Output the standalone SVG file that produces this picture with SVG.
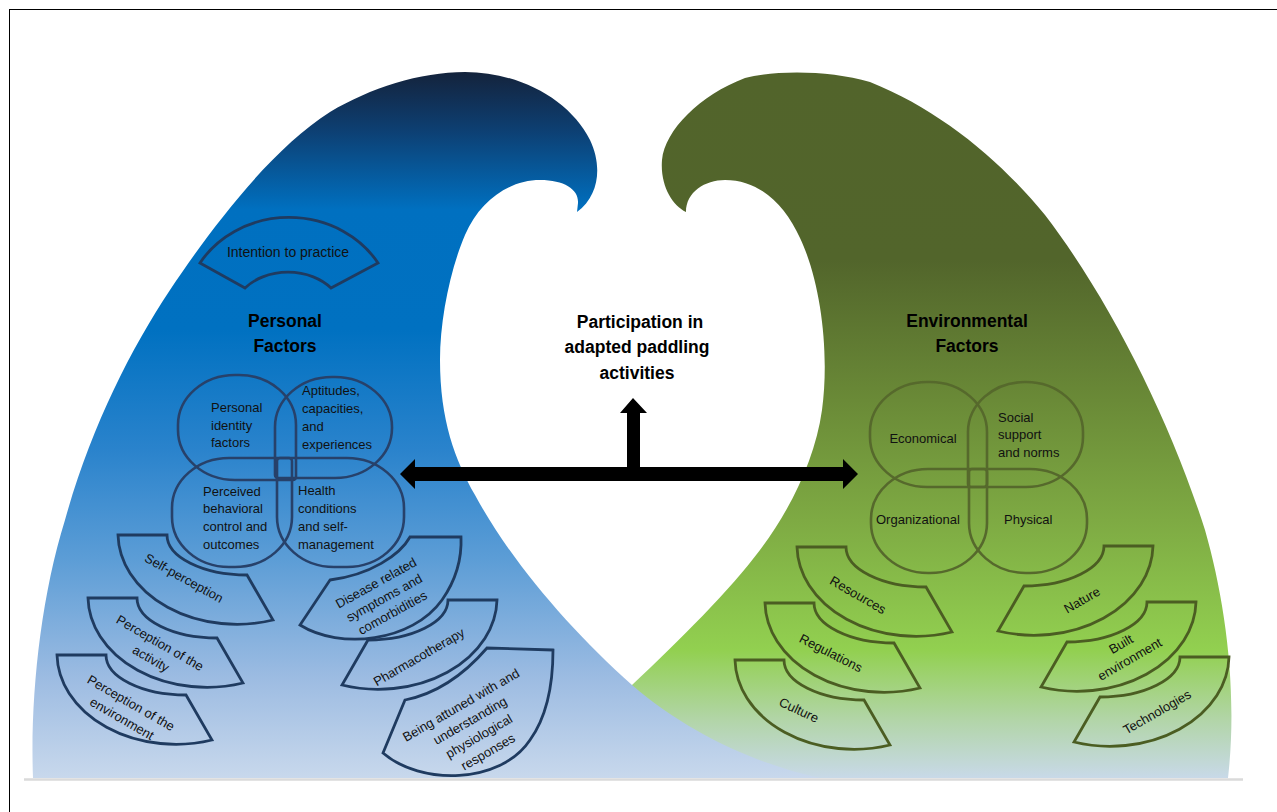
<svg xmlns="http://www.w3.org/2000/svg" width="1277" height="812" viewBox="0 0 1277 812">
  <defs>
    <linearGradient id="blueWave" gradientUnits="userSpaceOnUse" x1="0" y1="72" x2="0" y2="778">
      <stop offset="0" stop-color="#14233c"/>
      <stop offset="0.082" stop-color="#0d3f72"/>
      <stop offset="0.195" stop-color="#0070c0"/>
      <stop offset="0.365" stop-color="#0071c1"/>
      <stop offset="0.535" stop-color="#2a83cc"/>
      <stop offset="0.69" stop-color="#5c9dd6"/>
      <stop offset="0.86" stop-color="#9dbce2"/>
      <stop offset="1" stop-color="#c8d8ec"/>
    </linearGradient>
    <linearGradient id="greenWave" gradientUnits="userSpaceOnUse" x1="0" y1="72" x2="0" y2="778">
      <stop offset="0" stop-color="#52642b"/>
      <stop offset="0.266" stop-color="#52652b"/>
      <stop offset="0.465" stop-color="#6a8a37"/>
      <stop offset="0.635" stop-color="#7eaa43"/>
      <stop offset="0.819" stop-color="#92d050"/>
      <stop offset="0.918" stop-color="#b2d5a8"/>
      <stop offset="1" stop-color="#c8d9e8"/>
    </linearGradient>
    <!-- block-arc outlines, anchored at the outer top corner -->
    <path id="fanL" d="M0,0 H49 A80,40 0 0 0 129,40 L155,85 A119,91 0 0 1 0,0 Z"/>
    <path id="fanR" d="M0,0 H-49 A80,40 0 0 1 -129,40 L-155,85 A119,91 0 0 0 0,0 Z"/>
  </defs>
  <style>
    .lbl{font-family:"Liberation Sans",Arial,sans-serif;font-size:13px;fill:#111}
    .big{font-size:14px}
    .mid{text-anchor:middle}
    .ttl{font-family:"Liberation Sans",Arial,sans-serif;font-size:17.5px;font-weight:bold;fill:#000;text-anchor:middle}
    .pb{fill:none;stroke:#27416a;stroke-width:2.6}
    .fb{fill:none;stroke:#1f3b60;stroke-width:2.8}
    .eg{fill:none;stroke:#56692c;stroke-width:2.6}
    .fg{fill:none;stroke:#4b5d22;stroke-width:2.8}
    .arrow{fill:#000}
  </style>

  <rect x="0" y="0" width="1277" height="812" fill="#fff"/>
  <rect x="9.5" y="9.5" width="1300" height="830" fill="none" stroke="#000" stroke-width="1"/>

  <!-- background waves -->
  <g id="waves">
    <path id="wave-green" fill="url(#greenWave)" d="M686,212 C672,205 660,185 662,160 C665,130 700,95 745,78 C775,70 830,70 870,82 C940,110 1000,160 1045,215 C1110,300 1170,420 1205,530 C1225,600 1238,690 1228,778 L560,778 C580,740 600,715 632,685 C680,640 730,590 760,550 C790,510 815,460 822,410 C830,350 820,280 800,238 C785,205 760,180 725,180 C705,180 686,192 686,212 Z"/>
    <path id="wave-blue" fill="url(#blueWave)" d="M33,778 C30,700 40,600 65,520 C90,430 130,350 170,290 C210,230 270,150 330,112 C370,88 420,72 465,72 C520,72 570,100 590,140 C602,165 600,195 577,212 L578,203 C579,190 565,180 540,180 C510,180 480,200 465,235 C450,270 440,320 440,360 C440,420 455,460 475,495 C510,560 570,630 632,685 C690,735 760,765 820,778 Z"/>
    <line x1="24" y1="779.5" x2="1243" y2="779.5" stroke="#dadada" stroke-width="2.5"/>
  </g>

  <!-- personal factors -->
  <g id="intention">
    <path class="fb" d="M200,263 A103.5,93 0 0 1 378,263 L331,288 A54,40 0 0 0 245,288 Z"/>
    <text class="lbl big mid" x="288" y="257">Intention to practice</text>
  </g>
  <g id="personal-title">
    <text class="ttl" x="285" y="327">Personal</text>
    <text class="ttl" x="285" y="352">Factors</text>
  </g>
  <g id="personal-identity">
    <path class="pb" d="M178,425 A57,50 0 0 1 235,375 H239 A57,50 0 0 1 296,425 V477 A3,3 0 0 1 293,480 H235 A57,50 0 0 1 178,430 Z"/>
    <text class="lbl"><tspan x="211" y="412">Personal</tspan><tspan x="211" y="430">identity</tspan><tspan x="211" y="447">factors</tspan></text>
  </g>
  <g id="aptitudes">
    <path class="pb" d="M275,475 V427 A57,50 0 0 1 332,377 H335 A57,50 0 0 1 392,427 V428 A57,50 0 0 1 335,478 H278 A3,3 0 0 1 275,475 Z"/>
    <text class="lbl"><tspan x="302" y="395">Aptitudes,</tspan><tspan x="302" y="413">capacities,</tspan><tspan x="302" y="431">and</tspan><tspan x="302" y="449">experiences</tspan></text>
  </g>
  <g id="perceived-control">
    <path class="pb" d="M172,508 A57,50 0 0 1 229,458 H289 A3,3 0 0 1 292,461 V517 A57,50 0 0 1 235,567 H229 A57,50 0 0 1 172,517 Z"/>
    <text class="lbl"><tspan x="203" y="496">Perceived</tspan><tspan x="203" y="513">behavioral</tspan><tspan x="203" y="531">control and</tspan><tspan x="203" y="549">outcomes</tspan></text>
  </g>
  <g id="health-conditions">
    <path class="pb" d="M277,461 A3,3 0 0 1 280,458 H347 A57,50 0 0 1 404,508 V517 A57,50 0 0 1 347,567 H334 A57,50 0 0 1 277,517 Z"/>
    <text class="lbl"><tspan x="298" y="495">Health</tspan><tspan x="298" y="513">conditions</tspan><tspan x="298" y="531">and self-</tspan><tspan x="298" y="549">management</tspan></text>
  </g>
  <g id="self-perception">
    <use href="#fanL" class="fb" x="118" y="535"/>
    <text class="lbl mid" transform="translate(184,578) rotate(29)" y="4.5">Self-perception</text>
  </g>
  <g id="perception-activity">
    <use href="#fanL" class="fb" x="88" y="598"/>
    <text class="lbl mid" transform="translate(160,643) rotate(30)"><tspan x="0" y="4.5">Perception of the</tspan><tspan x="0" dy="18">activity</tspan></text>
  </g>
  <g id="perception-environment">
    <use href="#fanL" class="fb" x="57" y="655"/>
    <text class="lbl mid" transform="translate(131,703) rotate(30)"><tspan x="0" y="4.5">Perception of the</tspan><tspan x="0" dy="18">environment</tspan></text>
  </g>
  <g id="disease-symptoms">
    <path class="fb" d="M461,537 L410,537 C400,555 370,575 330,580 L300,625 C340,650 412,642 442,600 C456,580 462,560 461,537 Z"/>
    <text class="lbl mid" transform="translate(376,583) rotate(-29)"><tspan x="0" y="4.5">Disease related</tspan><tspan x="0" dy="17">symptoms and</tspan><tspan x="0" dy="17">comorbidities</tspan></text>
  </g>
  <g id="pharmacotherapy">
    <use href="#fanR" class="fb" x="497" y="600"/>
    <text class="lbl mid" transform="translate(419,657) rotate(-30)" y="4.5">Pharmacotherapy</text>
  </g>
  <g id="physiological-responses">
    <path class="fb" d="M553,650 L487,648 C468,670 440,693 405,700 L383,753 C420,785 500,785 530,740 C548,715 553,680 553,650 Z"/>
    <text class="lbl mid" transform="translate(461,705) rotate(-30)"><tspan x="0" y="4.5">Being attuned with and</tspan><tspan x="0" dy="18">understanding</tspan><tspan x="0" dy="18">physiological</tspan><tspan x="0" dy="18">responses</tspan></text>
  </g>

  <!-- environmental factors -->
  <g id="environmental-title">
    <text class="ttl" x="967" y="327">Environmental</text>
    <text class="ttl" x="967" y="352">Factors</text>
  </g>
  <g id="economical">
    <path class="eg" d="M870,432 A57,50 0 0 1 927,382 H930 A57,50 0 0 1 987,432 V484 A3,3 0 0 1 984,487 H927 A57,50 0 0 1 870,437 Z"/>
    <text class="lbl mid" x="923" y="443">Economical</text>
  </g>
  <g id="social-support">
    <path class="eg" d="M968,484 V432 A57,50 0 0 1 1025,382 H1026 A57,50 0 0 1 1083,432 V437 A57,50 0 0 1 1026,487 H971 A3,3 0 0 1 968,484 Z"/>
    <text class="lbl"><tspan x="998" y="422">Social</tspan><tspan x="998" y="439">support</tspan><tspan x="998" y="457">and norms</tspan></text>
  </g>
  <g id="organizational">
    <path class="eg" d="M871,519 A57,50 0 0 1 928,469 H984 A3,3 0 0 1 987,472 V523 A57,50 0 0 1 930,573 H928 A57,50 0 0 1 871,523 Z"/>
    <text class="lbl" x="876" y="524">Organizational</text>
  </g>
  <g id="physical">
    <path class="eg" d="M969,472 A3,3 0 0 1 972,469 H1030 A57,50 0 0 1 1087,519 V523 A57,50 0 0 1 1030,573 H1026 A57,50 0 0 1 969,523 Z"/>
    <text class="lbl" x="1004" y="524">Physical</text>
  </g>
  <g id="resources">
    <use href="#fanL" class="fg" x="797" y="547"/>
    <text class="lbl mid" transform="translate(858,595) rotate(30)" y="4.5">Resources</text>
  </g>
  <g id="regulations">
    <use href="#fanL" class="fg" x="765" y="603"/>
    <text class="lbl mid" transform="translate(831,653) rotate(27)" y="4.5">Regulations</text>
  </g>
  <g id="culture">
    <use href="#fanL" class="fg" x="735" y="660"/>
    <text class="lbl mid" transform="translate(799,710) rotate(25)" y="4.5">Culture</text>
  </g>
  <g id="nature">
    <use href="#fanR" class="fg" x="1153" y="546"/>
    <text class="lbl mid" transform="translate(1082,600) rotate(-30)" y="4.5">Nature</text>
  </g>
  <g id="built-environment">
    <use href="#fanR" class="fg" x="1196" y="602"/>
    <text class="lbl mid" transform="translate(1121,644) rotate(-30)"><tspan x="0" y="4.5">Built</tspan><tspan x="0" dy="17.5">environment</tspan></text>
  </g>
  <g id="technologies">
    <use href="#fanR" class="fg" x="1229" y="657"/>
    <text class="lbl mid" transform="translate(1157,712) rotate(-30)" y="4.5">Technologies</text>
  </g>

  <!-- outcome -->
  <g id="participation">
    <text class="ttl"><tspan x="640" y="328">Participation in</tspan><tspan x="637" y="353">adapted paddling</tspan><tspan x="637" y="379">activities</tspan></text>
  </g>

  <!-- connectors -->
  <g id="connectors">
    <polygon class="arrow" points="400,474 415,459 415,467 843,467 843,459 858,474 843,489 843,481 415,481 415,489"/>
    <polygon class="arrow" points="620,413 633,398 647,413 640,413 640,468 627,468 627,413"/>
  </g>
</svg>
